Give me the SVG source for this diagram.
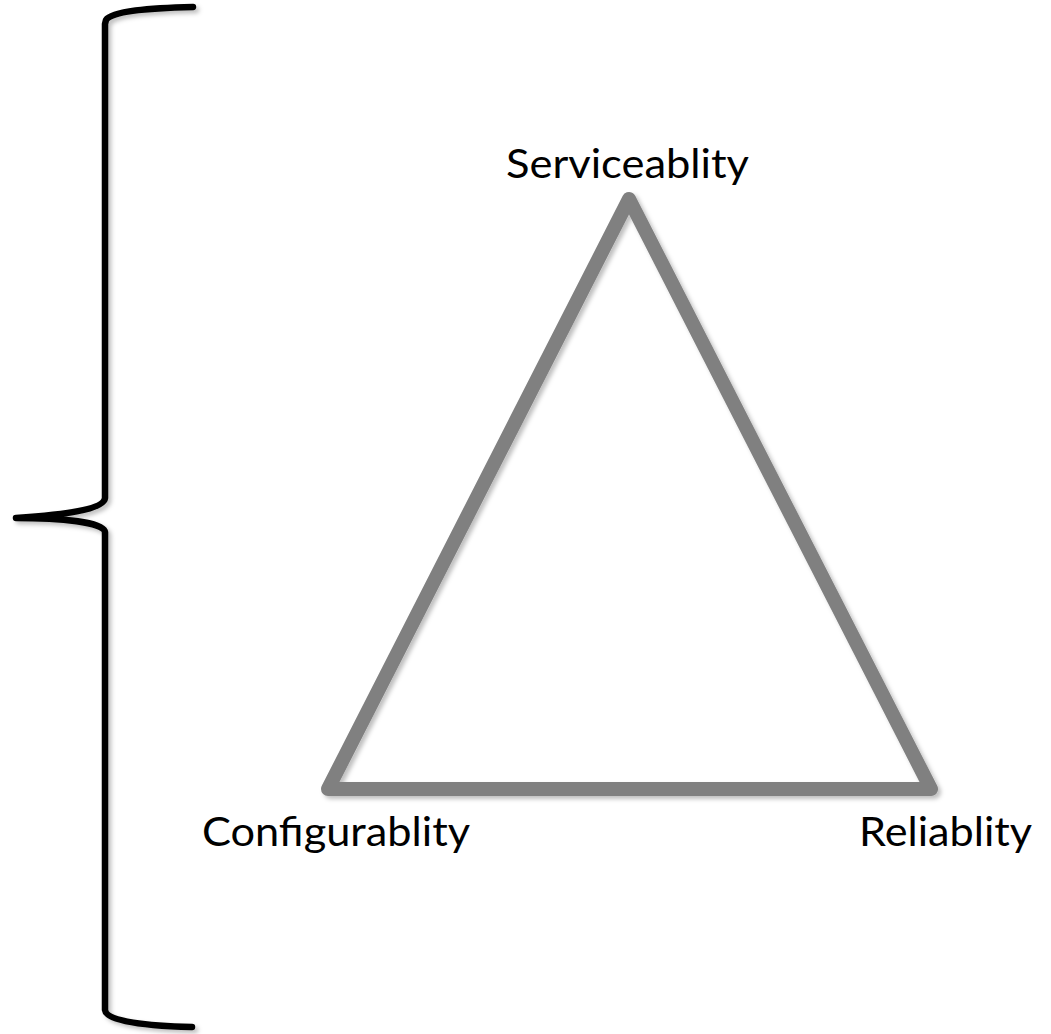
<svg xmlns="http://www.w3.org/2000/svg" width="1051" height="1034" viewBox="0 0 1051 1034">
<defs>
<style>
.lbl{font-family:Lato,"Liberation Sans",sans-serif;font-size:40px;fill:#000}
.brace{fill:none;stroke:#000;stroke-width:6.5;stroke-linecap:round;stroke-linejoin:round}
.tri{fill:none;stroke:#808080;stroke-width:14;stroke-linejoin:round}
</style>
<filter id="sh" x="-10%" y="-10%" width="130%" height="130%">
<feDropShadow dx="3" dy="3" stdDeviation="2" flood-color="#000" flood-opacity="0.25"/>
</filter>
</defs>
<rect width="1051" height="1034" fill="#fff"/>
<g id="brace" filter="url(#sh)">
<path class="brace" d="M193,7 C150,8 112,11 106,20 L105,24 L105,498 C104,510 60,515 16,518 C60,518 104,522 105,532 L105,1010 C106,1022 150,1026 192,1027"/>
</g>
<g id="triangle" filter="url(#sh)">
<polygon class="tri" points="629,199 931,789 328,789"/>
</g>
<g id="serviceability"><text class="lbl" x="506" y="178" textLength="243" lengthAdjust="spacingAndGlyphs">Serviceablity</text></g>
<g id="configurability"><text class="lbl" x="202" y="846" textLength="268" lengthAdjust="spacingAndGlyphs">Configurablity</text></g>
<g id="reliability"><text class="lbl" x="859" y="846" textLength="173" lengthAdjust="spacingAndGlyphs">Reliablity</text></g>
</svg>
